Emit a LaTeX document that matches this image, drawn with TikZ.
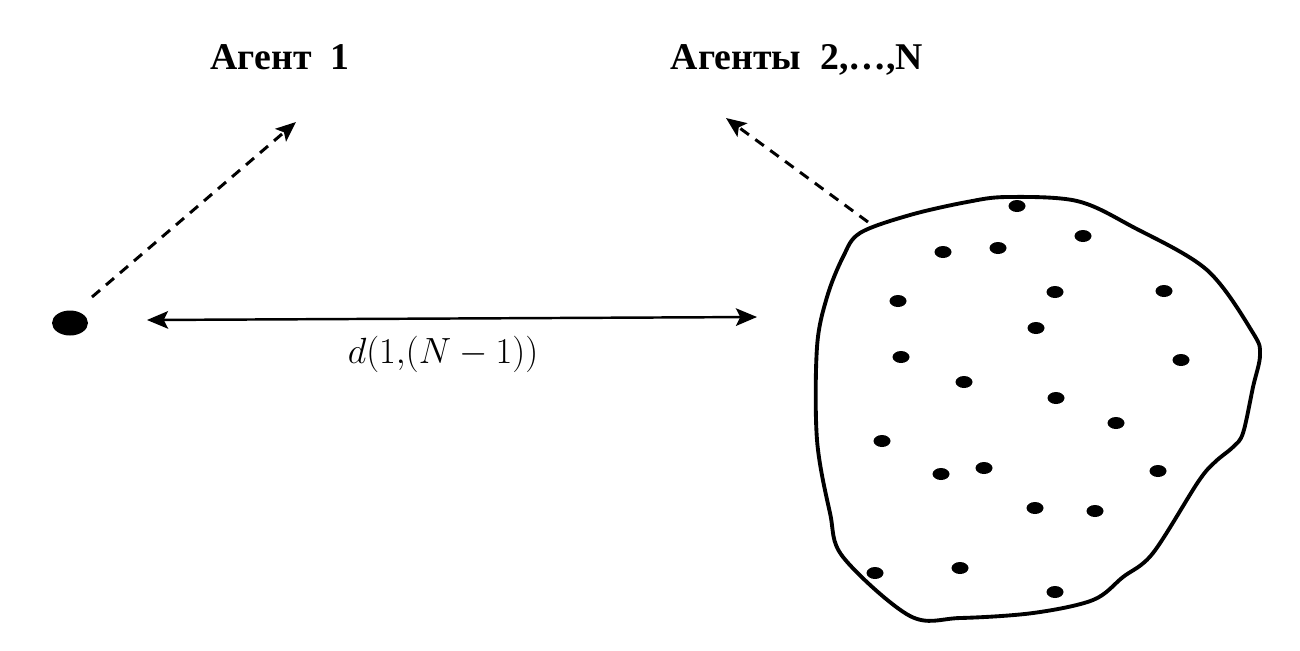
\documentclass[tikz,border=0pt]{standalone}
\usepackage{amsmath}
\usepackage{fontspec}
\newfontfamily\agentfont{Liberation Serif}
\usetikzlibrary{arrows.meta, shapes.geometric}

\tikzset{
  agentlabel/.style={font=\agentfont\bfseries\fontsize{21.5}{24}\selectfont, inner sep=0pt},
  member/.style={ellipse, fill=black, minimum width=17*0.02cm, minimum height=12*0.02cm, inner sep=0pt},
  heading/.style={line width=1.7pt, dash pattern=on 6pt off 4.5pt, -{Stealth[length=11.5pt,width=9.5pt,inset=2.5pt]}},
  gaparrow/.style={line width=1.4pt, {Stealth[length=12pt,width=10pt,inset=2.5pt]}-{Stealth[length=12pt,width=10pt,inset=2.5pt]}},
  blob/.style={line width=2.2pt, line join=round}
}

\begin{document}
\begin{tikzpicture}[x=0.02cm, y=-0.02cm]
\useasboundingbox (0,0) rectangle (1300,650);

% Agent 1
        \node[ellipse, fill=black, minimum width=36*0.02cm, minimum height=25*0.02cm, inner sep=0pt] (agent) at (70,323) {};
        \node[agentlabel] (lab1) at (280,57) {Агент~~1};

% Group of the other agents
        \draw[blob] plot[smooth cycle, tension=0.55] coordinates {
          (860,233) (910,215) (967,202) (1007,197) (1077,201) (1133,227)
          (1207,270) (1253,333) (1260,355) (1253,387) (1243,433) (1233,447)
          (1215,462) (1198,482) (1153,553) (1123,577) (1093,600) (1033,613)
          (960,618) (910,616) (843,557) (830,513) (817,440) (817,347)
          (827,297) (843,257)};
        \foreach \x/\y [count=\i] in {1017/206, 943/252, 998/248, 1083/236, 898/301,
          1055/292, 1164/291, 1036/328, 901/357, 1181/360, 964/382, 1056/398,
          1116/423, 882/441, 941/474, 984/468, 1158/471, 1035/508, 1095/511,
          875/573, 960/568, 1055/592} {
          \node[member] (m\i) at (\x,\y) {};
        }
        \node[agentlabel] (lab2) at (797,60) {Агенты~~2,\ldots,N};

% Headings
        \coordinate (h1s) at (92,297);
        \coordinate (h1e) at (296,122);
        \coordinate (h2s) at (868,222);
        \coordinate (h2e) at (726,118);
        \draw[heading] (h1s) -- (h1e);
        \draw[heading] (h2s) -- (h2e);

% Distance
        \coordinate (dl) at (147,320);
        \coordinate (dr) at (757,317);
        \draw[gaparrow] (dl) -- (dr);
        \node[font=\fontsize{21.5}{25}\selectfont] (dist) at (443,354) {$d(1{,}(N-1))$};

      \end{tikzpicture}
\end{document}
